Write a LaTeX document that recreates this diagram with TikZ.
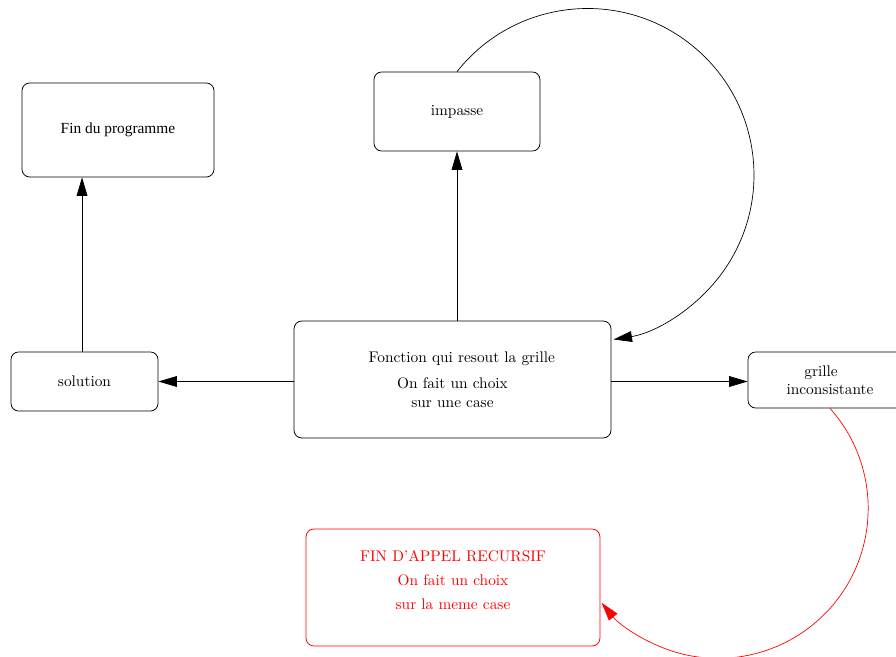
\documentclass[tikz,border=0pt]{standalone}
\usepackage{fontspec}
\newfontfamily\timesf{Liberation Serif}
\usetikzlibrary{arrows.meta,calc}
\begin{document}
\begin{tikzpicture}[x=0.65pt,y=0.65pt,
  box/.style={draw,rounded corners=5pt,align=center,line width=0.5pt},
  arr/.style={-{Triangle[length=12pt,width=7pt]},line width=0.45pt}]
\useasboundingbox (0,0) rectangle (896,-657);
\node[box,minimum width=124.8pt,minimum height=61.1pt] (fin) at (118,-130) {\raisebox{-2pt}{\timesf Fin du programme}};
\node[box,minimum width=107.9pt,minimum height=51.4pt] (imp) at (457,-111.5) {impasse};
\node[box,minimum width=206pt,minimum height=76pt] (fon) at (452.5,-379.5)
  {\hspace*{12pt}Fonction qui resout la grille\\[5pt]On fait un choix\\sur une case};
\node[box,minimum width=95.6pt,minimum height=38.4pt] (sol) at (84.5,-381.5) {solution};
\node[box,minimum width=106.6pt,minimum height=36.4pt] (gri) at (830,-380)
  {grille\hspace*{11.7pt}\\inconsistante};
\node[box,draw=red,minimum width=191pt,minimum height=76pt] (rec) at (453,-587.5) {};
\node[red,align=center] (rect) at ([yshift=5pt]rec.center)
  {FIN D'APPEL RECURSIF\\[3.6pt]On fait un choix\\[3.6pt]sur la meme case};
\coordinate (solup) at ([xshift=-1.6pt]sol.north);
\draw[arr] (solup) -- (solup |- fin.south);
\draw[arr] (fon.north -| imp.south) -- (imp.south);
\draw[arr] (fon.west |- sol.east) -- (sol.east);
\draw[arr] (fon.east |- sol.east) -- (gri.west |- sol.east);
\draw[arr] (imp.north) arc[start angle=141.6,end angle=-81,radius=166.5];
\draw[arr,red] (gri.south) arc[start angle=41.8,end angle=-141,radius=150];
\end{tikzpicture}
\end{document}
